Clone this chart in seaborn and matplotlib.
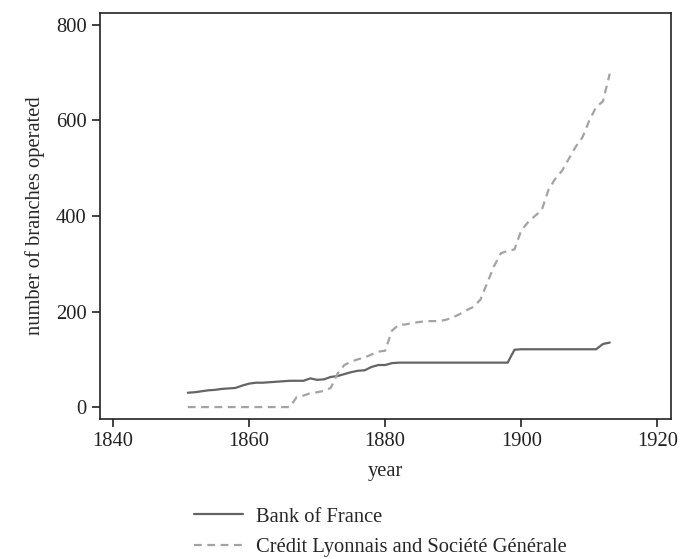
import matplotlib
matplotlib.use("Agg")
import matplotlib.pyplot as plt
import pandas as pd
import seaborn as sns

years = list(range(1851, 1914))

bank_of_france = [
    30, 31, 33, 35, 36, 38, 39, 40, 45, 49,          # 1851-1860
    51, 51, 52, 53, 54, 55, 55, 55, 60, 57,          # 1861-1870
    58, 63, 65, 69, 73, 76, 77, 84, 88, 88,          # 1871-1880
    92, 93, 93, 93, 93, 93, 93, 93, 93, 93,          # 1881-1890
    93, 93, 93, 93, 93, 93, 93, 93, 120, 121,        # 1891-1900
    121, 121, 121, 121, 121, 121, 121, 121, 121, 121,  # 1901-1910
    121, 132, 135,                                   # 1911-1913
]

credit_lyonnais_sg = [
    0, 0, 0, 0, 0, 0, 0, 0, 0, 0,                    # 1851-1860
    0, 0, 0, 0, 0, 0, 21, 24, 29, 31,                # 1861-1870
    34, 40, 70, 88, 95, 100, 104, 110, 116, 118,     # 1871-1880
    160, 172, 173, 176, 178, 180, 180, 180, 183, 188,  # 1881-1890
    195, 203, 210, 225, 260, 295, 322, 327, 330, 370,  # 1891-1900
    387, 400, 412, 455, 478, 495, 520, 545, 565, 600,  # 1901-1910
    628, 640, 698,                                   # 1911-1913
]

series_names = ["Bank of France", "Crédit Lyonnais and Société Générale"]

df = pd.DataFrame({"year": years, series_names[0]: bank_of_france,
                   series_names[1]: credit_lyonnais_sg})
long_df = df.melt(id_vars="year", var_name="bank", value_name="branches")

sns.set_style("ticks")
plt.rcParams["font.family"] = ["Liberation Serif", "DejaVu Serif"]
fs = 14.8

fig = plt.figure(figsize=(6.88, 5.59), dpi=100)
ax = fig.add_axes([100 / 688, 1 - 419 / 559, 571 / 688, 406 / 559])

palette = {series_names[0]: "#646464", series_names[1]: "#a3a3a3"}
dashes = {series_names[0]: "", series_names[1]: (3.5, 2.5)}
sns.lineplot(data=long_df, x="year", y="branches", hue="bank", style="bank",
             palette=palette, dashes=dashes, linewidth=1.6, ax=ax)

ax.set_xlim(1838.1, 1922)
ax.set_ylim(-25, 825)
ax.set_xticks([1840, 1860, 1880, 1900, 1920])
ax.set_yticks([0, 200, 400, 600, 800])
ax.set_xlabel("year", fontsize=fs, labelpad=8)
ax.set_ylabel("number of branches operated", fontsize=fs, labelpad=8)
ax.tick_params(direction="out", length=6, width=1.2, labelsize=fs, colors="#222222")
for spine in ax.spines.values():
    spine.set_visible(True)
    spine.set_linewidth(1.2)
    spine.set_color("#222222")

handles, labels = ax.get_legend_handles_labels()
ax.get_legend().remove()
fig.legend(handles, labels, loc="upper left",
           bbox_to_anchor=(184 / 688, 1 - 497 / 559), frameon=False, borderpad=0,
           fontsize=fs, handlelength=2.35, handletextpad=0.63, labelspacing=0.55)

fig.savefig("out.png", dpi=100)
